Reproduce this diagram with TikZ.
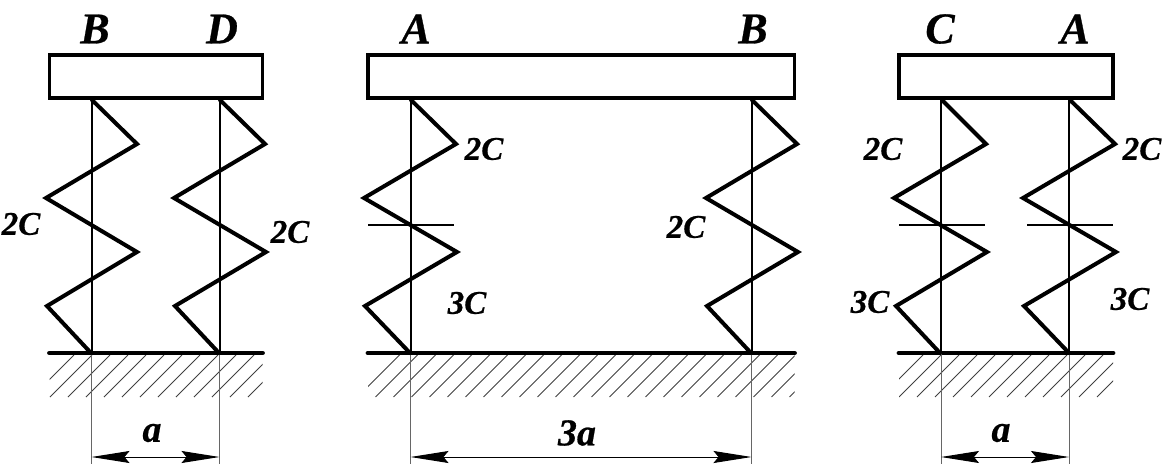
\documentclass[tikz,border=0pt]{standalone}
\usepackage{fontspec}
\setmainfont{Liberation Serif}[BoldItalicFeatures={FakeBold=0.6}]
\usetikzlibrary{arrows.meta}
\tikzset{
  x=1pt,y=-1pt,
  body/.style={draw=black,line width=3.8pt,line join=miter},
  ground/.style={draw=black,line width=4.8pt,line cap=round},
  spring/.style={draw=black,line width=4pt,line join=miter,line cap=round},
  axisline/.style={draw=black,line width=2pt},
  cutline/.style={draw=black,line width=1.8pt},
  hatchline/.style={draw=black!75,line width=0.8pt},
  extline/.style={draw=black!60,line width=0.8pt},
  dimline/.style={draw=black,line width=1pt,{Stealth[length=38pt,width=12pt,inset=5pt]}-{Stealth[length=38pt,width=12pt,inset=5pt]}},
  big/.style={font=\fontsize{44}{44}\selectfont\bfseries\itshape,inner sep=0pt},
  small/.style={font=\fontsize{33}{33}\selectfont\bfseries\itshape,inner sep=0pt},
  dimlabel/.style={font=\fontsize{38}{38}\selectfont\bfseries\itshape,inner sep=0pt},
}
\newcommand{\panelbase}[6]{% left, right, hatch start, axis 1, axis 2, panel name
  \draw[body] (#1,55) rectangle (#2,98);
  \begin{scope}
    \clip (#1,355) rectangle (#2,397);
    \foreach \k in {0,...,26}{
      \draw[hatchline] ({#3+18*\k},397) -- ({#3+18*\k+42},355);
    }
  \end{scope}
  \draw[ground] (#1,353) -- (#2,353);
  \draw[axisline] (#4,98) -- (#4,353);
  \draw[axisline] (#5,98) -- (#5,353);
  \coordinate (#6dimL) at (#4,457);
  \coordinate (#6dimR) at (#5,457);
  \draw[extline] (#4,353) -- (#4,464);
  \draw[extline] (#5,353) -- (#5,464);
  \draw[dimline] (#6dimL) -- (#6dimR);
}
\begin{document}
\begin{tikzpicture}
\useasboundingbox (0,0) rectangle (1169,468);
\panelbase{49.5}{262.5}{32}{91.5}{219.5}{pa}
\panelbase{368}{794.5}{357.5}{410.5}{751.5}{pb}
\panelbase{899}{1113}{881}{941}{1069}{pc}

\draw[spring] (92,100) -- (137,144) -- (46,198) -- (137,252) -- (47,306) -- (91,353);
\draw[spring] (220,100) -- (265,144) -- (174,198) -- (266,252) -- (175,306) -- (219,353);
\draw[spring] (411,100) -- (456,144) -- (364,198) -- (457,252) -- (365,306) -- (410,353);
\draw[spring] (752,100) -- (797,144) -- (706,198) -- (798,252) -- (707,306) -- (751,353);
\draw[spring] (942,100) -- (986,144) -- (894,198) -- (987,252) -- (896,306) -- (940,353);
\draw[spring] (1070,100) -- (1115,144) -- (1023,198) -- (1116,252) -- (1024,306) -- (1069,353);

\draw[cutline] (368,225) -- (454,225);
\draw[cutline] (899,225) -- (985,225);
\draw[cutline] (1027,225) -- (1113,225);

\node[big] (nB1) at (95,29) {B};
\node[big] (nD) at (222,29) {D};
\node[big] (nA1) at (416,29) {A};
\node[big] (nB2) at (753,29) {B};
\node[big] (nC) at (940,29) {C};
\node[big] (nA2) at (1075,29) {A};

\node[small] (s1) at (21,224) {2C};
\node[small] (s2) at (290,232) {2C};
\node[small] (s3) at (484,149) {2C};
\node[small] (s4) at (467,303) {3C};
\node[small] (s5) at (686,227) {2C};
\node[small] (s6) at (883,149) {2C};
\node[small] (s7) at (870,302) {3C};
\node[small] (s8) at (1142,149) {2C};
\node[small] (s9) at (1130,299) {3C};

\node[dimlabel] (d1) at (152,433) {a};
\node[dimlabel] (d2) at (577,433) {3a};
\node[dimlabel] (d3) at (1001,433) {a};
\end{tikzpicture}
\end{document}
